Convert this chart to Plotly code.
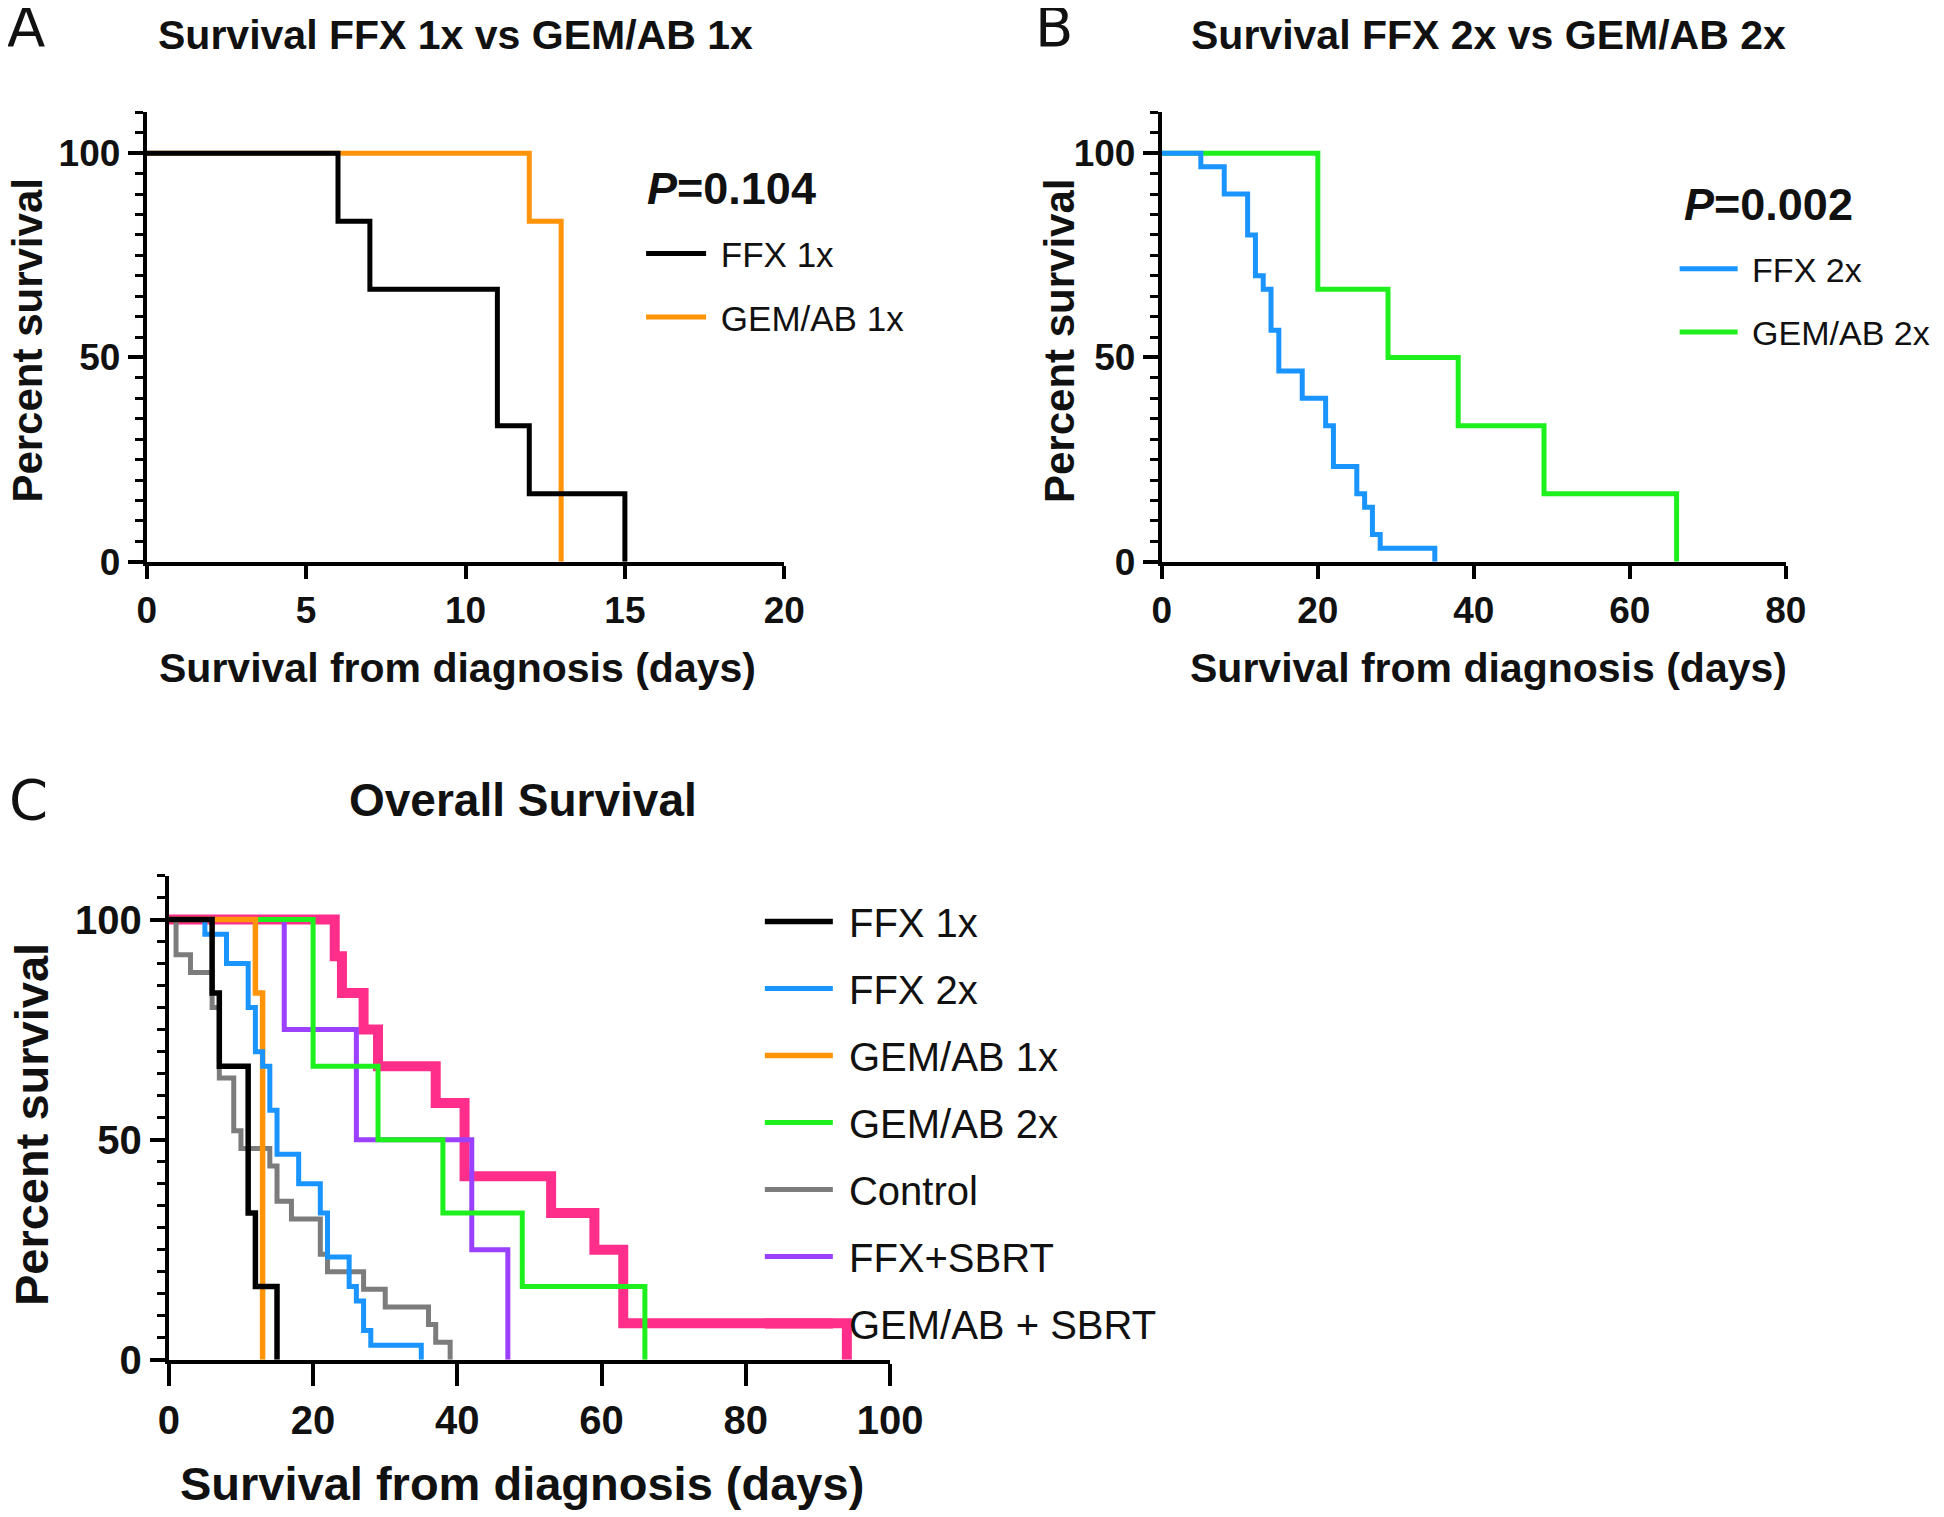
"""Kaplan-Meier survival curves: FFX vs GEM/AB (panels A, B) and overall survival (panel C)."""

import plotly.graph_objects as go

W, H = 1944, 1517

# ---- data: step points (day, percent surviving) ----
ffx1_days = [0, 6, 7, 11, 12, 15]
ffx1_surv = [100, 83.33, 66.67, 33.33, 16.67, 0]

gem1_days = [0, 12, 13]
gem1_surv = [100, 83.33, 0]

ffx2_days = [0, 5, 8, 11, 12, 13, 14, 15, 18, 21, 22, 25, 26, 27, 28, 35]
ffx2_surv = [100, 96.67, 90, 80, 70, 66.67, 56.67, 46.67, 40, 33.33, 23.33,
             16.67, 13.33, 6.67, 3.33, 0]

gem2_days = [0, 20, 29, 38, 49, 66]
gem2_surv = [100, 66.67, 50, 33.33, 16.67, 0]

control_days = [0, 1, 3, 6, 7, 9, 10, 14, 15, 17, 21, 22, 27, 30, 36, 37, 39]
control_surv = [100, 92, 88, 80, 64, 52, 48, 44, 36, 32, 24, 20, 16, 12, 8, 4, 0]

ffx_sbrt_days = [0, 16, 26, 42, 47]
ffx_sbrt_surv = [100, 75, 50, 25, 0]

gem_sbrt_days = [0, 23, 24, 27, 29, 37, 41, 53, 59, 63, 94]
gem_sbrt_surv = [100, 91.67, 83.33, 75, 66.67, 58.33, 41.67, 33.33, 25, 8.33, 0]

p_values = ['0.104', '0.002']
x_ticks = {'A': 5, 'B': 20, 'C': 20}
x_max = {'A': 20, 'B': 80, 'C': 100}

COLORS = {
    'FFX 1x': '#000000',
    'FFX 2x': '#1A94FF',
    'GEM/AB 1x': '#FF9408',
    'GEM/AB 2x': '#1EF01E',
    'Control': '#7C7C7C',
    'FFX+SBRT': '#9B40FF',
    'GEM/AB + SBRT': '#FF2E8A',
}

BOLD_FONT = 'Liberation Sans, Arial, sans-serif'
LETTER_FONT = 'DejaVu Sans, sans-serif'
NBSP = '\u00a0'


def fx(px):
    return px / W


def fy(py):
    return 1 - py / H


def km_trace(name, days, surv, xa, ya, legend, width, rank, pad=''):
    return go.Scatter(
        x=days, y=surv, name=pad + name, mode='lines',
        line=dict(color=COLORS[name], width=width, shape='hv'),
        xaxis=xa, yaxis=ya, legend=legend,
        legendgroup=f'{legend}-{name}', legendrank=rank,
        hovertemplate=f'{name}<br>day %{{x}}: %{{y:.1f}}%<extra></extra>',
    )


def axis_pair(x_dom, y_dom, dtick, xmax, tick_size, xticklen, anchor_x, anchor_y):
    tickfont = dict(family=BOLD_FONT, size=tick_size, color='#111', weight='bold')
    xaxis = dict(
        domain=x_dom, anchor=anchor_y, range=[0, xmax], dtick=dtick,
        showline=True, linecolor='black', linewidth=4,
        ticks='outside', ticklen=xticklen, tickwidth=4, tickcolor='black',
        showgrid=False, zeroline=False, fixedrange=True, tickfont=tickfont,
    )
    yaxis = dict(
        domain=y_dom, anchor=anchor_x, range=[0, 110], tickvals=[0, 50, 100],
        showline=True, linecolor='black', linewidth=4,
        ticks='outside', ticklen=15, tickwidth=4, tickcolor='black',
        minor=dict(dtick=5, ticks='outside', ticklen=8, tickwidth=3, tickcolor='black'),
        showgrid=False, zeroline=False, fixedrange=True, tickfont=tickfont,
    )
    return xaxis, yaxis


def text(t, x, y, size, family=BOLD_FONT, weight='bold', angle=0,
         xanchor='center', yanchor='middle', xshift=0, yshift=0):
    return dict(
        text=t, x=fx(x), y=fy(y), xref='paper', yref='paper',
        xanchor=xanchor, yanchor=yanchor, showarrow=False, textangle=angle,
        xshift=xshift, yshift=yshift,
        font=dict(family=family, size=size, color='#111', weight=weight),
    )


fig = go.Figure()

# Panel A
fig.add_trace(km_trace('GEM/AB 1x', gem1_days, gem1_surv, 'x', 'y', 'legend', 5, 2, NBSP))
fig.add_trace(km_trace('FFX 1x', ffx1_days, ffx1_surv, 'x', 'y', 'legend', 5, 1, NBSP))

# Panel B
fig.add_trace(km_trace('GEM/AB 2x', gem2_days, gem2_surv, 'x2', 'y2', 'legend2', 5, 2, NBSP))
fig.add_trace(km_trace('FFX 2x', ffx2_days, ffx2_surv, 'x2', 'y2', 'legend2', 5, 1, NBSP))

# Panel C (first legend entry drawn on top)
panel_c = [
    ('FFX 1x', ffx1_days, ffx1_surv, 5.5),
    ('FFX 2x', ffx2_days, ffx2_surv, 5),
    ('GEM/AB 1x', gem1_days, gem1_surv, 5.5),
    ('GEM/AB 2x', gem2_days, gem2_surv, 5),
    ('Control', control_days, control_surv, 5),
    ('FFX+SBRT', ffx_sbrt_days, ffx_sbrt_surv, 5),
    ('GEM/AB + SBRT', gem_sbrt_days, gem_sbrt_surv, 10),
]
for rank, (name, d, s, w) in reversed(list(enumerate(panel_c, start=1))):
    fig.add_trace(km_trace(name, d, s, 'x3', 'y3', 'legend3', w, rank, NBSP))

xa, ya = axis_pair([fx(130.7), fx(783)], [fy(562), fy(105.8)],
                   x_ticks['A'], x_max['A'], 37, 13, 'x', 'y')
xb, yb = axis_pair([fx(1169.3), fx(1807.7)], [fy(562), fy(105.8)],
                   x_ticks['B'], x_max['B'], 37, 13, 'x2', 'y2')
xc, yc = axis_pair([fx(153.3), fx(891.3)], [fy(1371.7), fy(880.3)],
                   x_ticks['C'], x_max['C'], 40, 22, 'x3', 'y3')

legend_common = dict(
    bgcolor='rgba(0,0,0,0)', borderwidth=0, traceorder='grouped',
    xanchor='left', yanchor='top',
)

annotations = [
    text('A', 26, 27, 56, LETTER_FONT, 'normal', xshift=-18, yshift=8),
    text('B', 1056, 27, 56, LETTER_FONT, 'normal', xshift=3, yshift=8),
    text('C', 28, 801, 56, LETTER_FONT, 'normal', xshift=-18, yshift=-2),
    text('Survival FFX 1x vs GEM/AB 1x', 447, 27, 41),
    text('Survival FFX 2x vs GEM/AB 2x', 1504, 27, 41),
    text('Overall Survival', 516, 804, 46),
    text('Survival from diagnosis (days)', 449, 670, 41),
    text('Survival from diagnosis (days)', 1504, 670, 41),
    text('Survival from diagnosis (days)', 515, 1497, 47),
    text('Percent survival', 0, 337, 42, angle=-90, xanchor='left', xshift=-17),
    text('Percent survival', 1064, 337, 42, angle=-90),
    text('Percent survival', 0, 1133, 47, angle=-90, xanchor='left', xshift=-16),
    text(f'<i>P</i>={p_values[0]}', 641, 183, 45, xanchor='left'),
    text(f'<i>P</i>={p_values[1]}', 1702, 199, 45, xanchor='left'),
]

fig.update_layout(
    width=W, height=H, autosize=False,
    margin=dict(l=0, r=0, t=0, b=0),
    paper_bgcolor='white', plot_bgcolor='white',
    xaxis=xa, yaxis=ya, xaxis2=xb, yaxis2=yb, xaxis3=xc, yaxis3=yc,
    legend=dict(x=fx(636.5), y=fy(219.5), tracegroupgap=15, itemwidth=60,
                font=dict(family=BOLD_FONT, size=35, color='#111'), **legend_common),
    legend2=dict(x=fx(1694), y=fy(235.5), tracegroupgap=16, itemwidth=58,
                 font=dict(family=BOLD_FONT, size=34, color='#111'), **legend_common),
    legend3=dict(x=fx(758), y=fy(894), tracegroupgap=12, itemwidth=68,
                 font=dict(family=BOLD_FONT, size=40, color='#111'), **legend_common),
    annotations=annotations,
    hovermode='closest',
)

fig.write_html('out.html')
